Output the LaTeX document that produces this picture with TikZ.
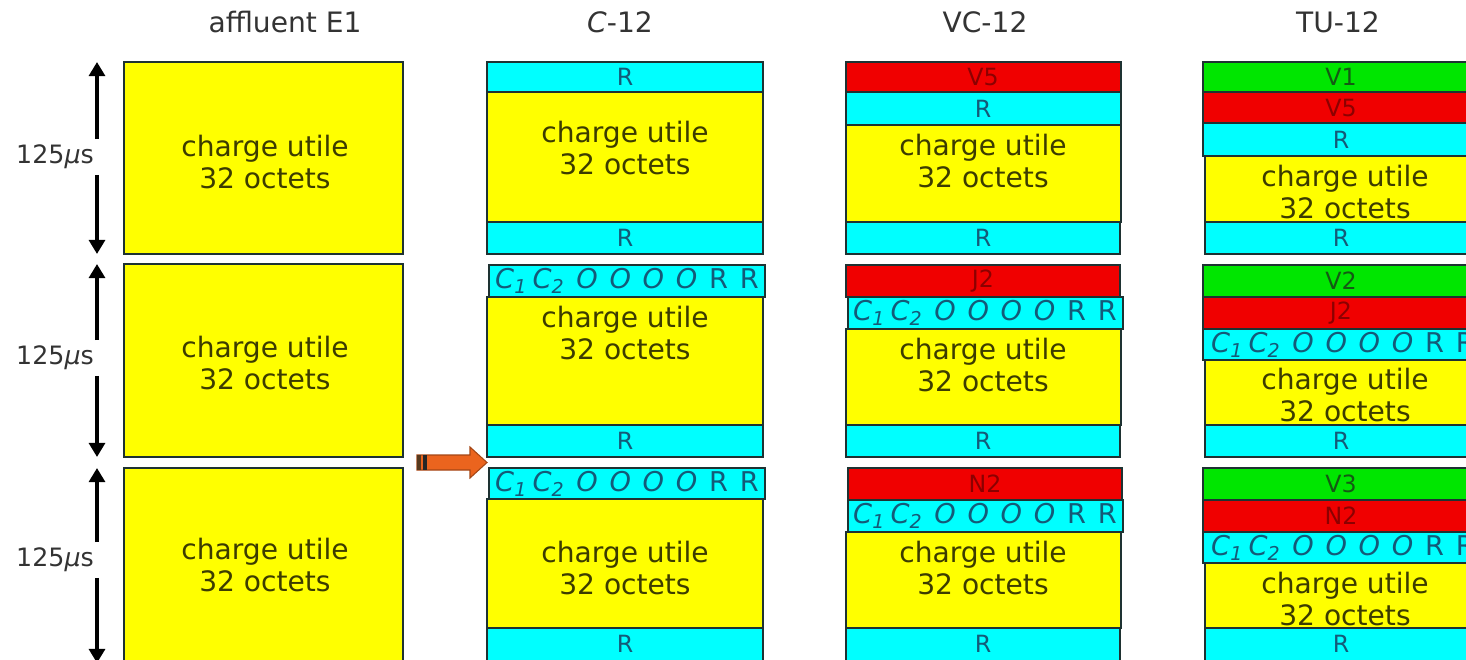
\documentclass[tikz,border=0pt]{standalone}
\usepackage{fontspec}
\setmainfont{DejaVu Sans}
\usetikzlibrary{arrows.meta}

\definecolor{payyellow}{RGB}{255,255,0}
\definecolor{ohcyan}{RGB}{0,255,255}
\definecolor{pohred}{RGB}{240,0,0}
\definecolor{vgreen}{RGB}{0,230,0}
\definecolor{frameline}{RGB}{30,50,50}
\definecolor{paytext}{RGB}{60,60,0}
\definecolor{ohtext}{RGB}{20,90,120}
\definecolor{pohtext}{RGB}{140,0,0}
\definecolor{vtext}{RGB}{20,90,20}
\definecolor{muxorange}{RGB}{235,100,30}

% overhead bytes of the first sub-frame
\newcommand{\ovhd}{\makebox[150pt][s]{\itshape C\textsubscript{1}\hspace{3pt}C\textsubscript{2}\hfill O\hfill O\hfill O\hfill O\hfill\upshape R\hfill R}}

\tikzset{
  band/.style={draw=frameline, line width=0.8pt},
  payload/.style={band, fill=payyellow},
  ohband/.style={band, fill=ohcyan},
  pohband/.style={band, fill=pohred},
  vband/.style={band, fill=vgreen},
  paylbl/.style={text=paytext, align=center, inner sep=0pt,
    font=\fontsize{16}{18.5}\selectfont},
  ohlbl/.style={text=ohtext, inner sep=0pt, font=\fontsize{13.5}{15}\selectfont},
  ovlbl/.style={text=ohtext, inner sep=0pt, font=\fontsize{15.5}{17}\selectfont},
  pohlbl/.style={text=pohtext, inner sep=0pt, font=\fontsize{13.5}{15}\selectfont},
  vlbl/.style={text=vtext, inner sep=0pt, font=\fontsize{13.5}{15}\selectfont},
  title/.style={text=black!80, font=\fontsize{16}{18}\selectfont},
  mulbl/.style={text=black!80, minimum height=0.7cm, inner sep=0pt,
    font=\fontsize{14.4}{17}\selectfont},
  timearrow/.style={line width=2pt, -{Triangle[width=9pt,length=8pt]}},
  muxarrow/.style={draw=muxorange!70!black, fill=muxorange, line width=0.6pt}
}

\begin{document}
\begin{tikzpicture}[x=0.02cm, y=-0.02cm]
    \useasboundingbox (0,0) rectangle (1466,659);
    \clip (0,0) rectangle (1466,659);

    % Titles
    \node[title] (tE1) at (285,22) {affluent E1};
    \node[title] (tC) at (620,22) {\itshape C\upshape -12};
    \node[title] (tVC) at (985,22) {VC-12};
    \node[title] (tTU) at (1338,22) {TU-12};

    % Tributary E1 and frame period
    \foreach \t/\b/\m/\n in {62/254/157/1, 264/457/358/2, 468/663/560/3} {
      \draw[payload] (124,\t) rectangle (403,\b);
      \node[paylbl] (e1p\n) at (265,\m+5) {charge utile\\32 octets};
      \node[mulbl] (mu\n) at (55,\m) {125{\itshape μ}s};
      \coordinate (up\n) at (97,\t);
      \coordinate (dn\n) at (97,\b);
      \draw[timearrow] (up\n |- mu\n.north) -- (up\n);
      \draw[timearrow] (dn\n |- mu\n.south) -- (dn\n);
    }

    % Mapping arrow
    \draw[muxarrow] (417,455) -- (470,455) -- (470,447) -- (487,462.5)
      -- (470,478) -- (470,470) -- (417,470) -- cycle;
    \fill[black!55!brown] (417,455) rectangle (421,470);
    \fill[black!85] (423,455) rectangle (427,470);

    % C-12
    \draw[ohband] (487,62) rectangle (763,92);
    \node[ohlbl] (c1a) at (625,77) {R};
    \draw[payload] (487,92) rectangle (763,222);
    \node[paylbl] (c1p) at (625,148) {charge utile\\32 octets};
    \draw[ohband] (487,222) rectangle (763,254);
    \node[ohlbl] (c1b) at (625,238) {R};

    \draw[ohband] (489,265) rectangle (765,297);
    \node[ovlbl] (c2o) at (627,281) {\ovhd};
    \draw[payload] (487,297) rectangle (763,425);
    \node[paylbl] (c2p) at (625,333) {charge utile\\32 octets};
    \draw[ohband] (487,425) rectangle (763,457);
    \node[ohlbl] (c2b) at (625,441) {R};

    \draw[ohband] (489,468) rectangle (765,499);
    \node[ovlbl] (c3o) at (627,484) {\ovhd};
    \draw[payload] (487,499) rectangle (763,628);
    \node[paylbl] (c3p) at (625,568) {charge utile\\32 octets};
    \draw[ohband] (487,628) rectangle (763,663);
    \node[ohlbl] (c3b) at (625,644) {R};

    % VC-12
    \draw[pohband] (846,62) rectangle (1121,92);
    \node[pohlbl] (vc1v) at (983,77) {V5};
    \draw[ohband] (846,92) rectangle (1121,125);
    \node[ohlbl] (vc1a) at (983,109) {R};
    \draw[payload] (846,125) rectangle (1121,222);
    \node[paylbl] (vc1p) at (983,161) {charge utile\\32 octets};
    \draw[ohband] (846,222) rectangle (1120,254);
    \node[ohlbl] (vc1b) at (983,238) {R};

    \draw[pohband] (846,265) rectangle (1120,297);
    \node[pohlbl] (vc2j) at (983,281) {J2};
    \draw[ohband] (848,297) rectangle (1123,329);
    \node[ovlbl] (vc2o) at (985,313) {\ovhd};
    \draw[payload] (846,329) rectangle (1121,425);
    \node[paylbl] (vc2p) at (983,365) {charge utile\\32 octets};
    \draw[ohband] (846,425) rectangle (1120,457);
    \node[ohlbl] (vc2b) at (983,441) {R};

    \draw[pohband] (848,468) rectangle (1122,500);
    \node[pohlbl] (vc3n) at (985,484) {N2};
    \draw[ohband] (848,500) rectangle (1123,532);
    \node[ovlbl] (vc3o) at (985,516) {\ovhd};
    \draw[payload] (846,532) rectangle (1121,628);
    \node[paylbl] (vc3p) at (983,568) {charge utile\\32 octets};
    \draw[ohband] (846,628) rectangle (1120,663);
    \node[ohlbl] (vc3b) at (983,644) {R};

    % TU-12
    \draw[vband] (1203,62) rectangle (1480,92);
    \node[vlbl] (tu1v) at (1341,77) {V1};
    \draw[pohband] (1203,92) rectangle (1480,123);
    \node[pohlbl] (tu1w) at (1341,108) {V5};
    \draw[ohband] (1203,123) rectangle (1480,156);
    \node[ohlbl] (tu1a) at (1341,140) {R};
    \draw[payload] (1205,156) rectangle (1480,222);
    \node[paylbl] (tu1p) at (1345,192) {charge utile\\32 octets};
    \draw[ohband] (1205,222) rectangle (1480,254);
    \node[ohlbl] (tu1b) at (1341,238) {R};

    \draw[vband] (1203,265) rectangle (1480,297);
    \node[vlbl] (tu2v) at (1341,281) {V2};
    \draw[pohband] (1203,297) rectangle (1480,329);
    \node[pohlbl] (tu2j) at (1341,313) {J2};
    \draw[ohband] (1203,329) rectangle (1480,360);
    \node[ovlbl] (tu2o) at (1343,345) {\ovhd};
    \draw[payload] (1205,360) rectangle (1480,425);
    \node[paylbl] (tu2p) at (1345,395) {charge utile\\32 octets};
    \draw[ohband] (1205,425) rectangle (1480,457);
    \node[ohlbl] (tu2b) at (1341,441) {R};

    \draw[vband] (1203,468) rectangle (1480,500);
    \node[vlbl] (tu3v) at (1341,484) {V3};
    \draw[pohband] (1203,500) rectangle (1480,532);
    \node[pohlbl] (tu3n) at (1341,516) {N2};
    \draw[ohband] (1203,532) rectangle (1480,563);
    \node[ovlbl] (tu3o) at (1343,548) {\ovhd};
    \draw[payload] (1205,563) rectangle (1480,628);
    \node[paylbl] (tu3p) at (1345,599) {charge utile\\32 octets};
    \draw[ohband] (1205,628) rectangle (1480,663);
    \node[ohlbl] (tu3b) at (1341,644) {R};
\end{tikzpicture}
\end{document}
